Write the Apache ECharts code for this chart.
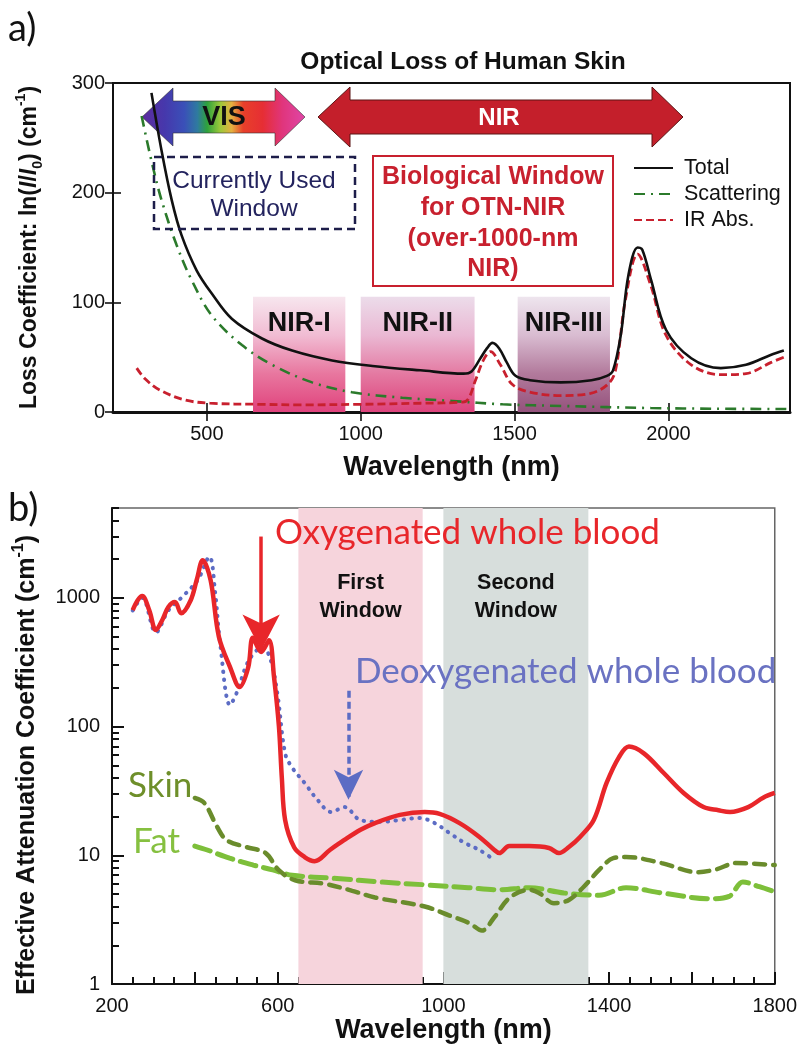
<!DOCTYPE html>
<html><head><meta charset="utf-8">
<script src="https://cdn.jsdelivr.net/npm/echarts@6/dist/echarts.min.js"></script>
<style>html,body{margin:0;padding:0;background:#fff}#c{width:800px;height:1052px}</style>
</head><body><div id="c"></div>
<script>
// ---------- Panel a data (wavelength nm, loss coefficient cm^-1) ----------
const totX = [320,353,386,418,467,516,581,679,777,907,1038,1194,1334,1360,1389,1410,1428,1450,1475,1503,1550,1650,1750,1800,1820,1845,1870,1900,1915,1944,1992,2074,2170,2252,2332,2375];
const totY = [291,238,193,161,129,108,85,67,56,47,42,38,35,37,49,58,63,58,45,33,29,27,29,33,38,70,125,150,148,120,75,49,40,43,52,56];
const scatX = [288,320,353,402,451,516,614,712,842,972,1135,1298,1461,1655,1943,2150,2395];
const scatY = [270,229,193,152,120,88,61,43,27,18,13,10,7,5.5,3.6,3,2.7];
const irX = [272,300,347,428,510,672,803,998,1194,1331,1350,1373,1400,1422,1454,1493,1552,1650,1747,1802,1828,1860,1900,1943,1992,2074,2170,2252,2332,2375];
const irY = [40,30,20,11,8,7,6.5,7,8,9,12,29,48,55,43,25,18,15,17,25,38,102,144,115,70,43,34,35,45,50];
const bandsA = [[650,950,'NIR-I'],[1000,1370,'NIR-II'],[1510,1810,'NIR-III']];
const bandTopA = 105;
const ticksAX = [500,1000,1500,2000];
const ticksAY = [0,100,200,300];
const legendA = ['Total','Scattering','IR Abs.'];

// ---------- Panel b data (wavelength nm, effective attenuation cm^-1) ----------
const oxyX = [250,262,273,290,306,322,336,352,367,390,405,419,438,458,485,508,529,540,560,579,591,603,610,618,640,665,689,726,760,800,835,895,955,991,1039,1087,1123,1135,1159,1207,1255,1279,1303,1330,1363,1394,1424,1448,1484,1532,1580,1628,1664,1692,1736,1772,1800];
const oxyY = [805,960,1035,800,563,680,850,930,760,960,1400,1960,1380,500,290,203,290,490,380,470,245,100,40,18.8,11.5,9.7,9.0,11,13.1,15.8,17.8,20.6,21.7,21,17.8,13.9,11,10.4,11.8,11.8,11.4,10.4,11.6,13.9,18.8,36.5,58,70,62,43.6,30.5,23.7,22.4,21.7,23.7,28,30.5];
const deoxyX = [250,273,306,336,367,407,435,449,461,485,501,531,564,583,599,618,635,665,696,729,762,799,847,895,943,979,1015,1051,1087,1123];
const deoxyY = [800,1000,540,800,1000,1380,2090,1100,446,147,183,330,415,330,183,62,48,36.5,27,21.7,23.7,18.8,18.2,18.8,19.5,17.8,14.9,12.5,11,9.2];
const skinX = [400,423,454,477,524,571,602,642,714,780,835,955,1015,1063,1093,1123,1159,1207,1231,1267,1303,1339,1376,1410,1441,1527,1613,1660,1706,1800];
const skinY = [27.9,25.5,16.6,13.1,11.6,10.4,7.7,6.4,6.0,5.3,4.7,4.0,3.4,2.97,2.6,3.3,4.65,5.4,5.1,4.25,4.5,5.7,7.7,9.5,9.7,8.7,7.4,7.8,8.7,8.4];
const fatX = [400,430,484,541,588,635,743,850,955,1060,1135,1207,1291,1376,1441,1527,1645,1690,1723,1763,1800];
const fatY = [11.8,11,9.5,8.4,7.7,7.0,6.6,6.2,5.9,5.6,5.4,5.6,5.1,4.9,5.6,5.1,4.6,4.8,6.2,5.7,5.2];
const windowsB = [[650,950,'First\nWindow'],[1000,1350,'Second\nWindow']];
const labelsBX = [200,600,1000,1400,1800];
const majorBX = [200,400,600,800,1000,1200,1400,1600,1800];
const redArrowB = [560, 3000, 390];   // x, yStart, yEnd
const blueArrowB = [771, 190, 27];

const minorBX = [];
for (let v = 250; v < 1800; v += 50) if (v % 200 !== 0) minorBX.push(v);
// log-axis tick positions for panel b (helper axes in log10 space)
const majorLog = [0, 1, 2, 3];
const minorLog = [];
for (let d = 0; d < 4; d++) for (let k = 2; k <= 9; k++) { const v = k * Math.pow(10, d); if (v <= 5000) minorLog.push(Math.log10(v)); }

const zip = (xs, ys) => xs.map((x, i) => [x, ys[i]]);
const SANS = '"Liberation Sans", Arial, Helvetica, sans-serif';
const HUM = 'Lato, "Open Sans", sans-serif';
const LG = (stops) => new echarts.graphic.LinearGradient(0, 0, 0, 1, stops.map((c, i) => ({offset: i / (stops.length - 1), color: c})));
const bandColorsA = [
  LG(['#f7e6ee', '#f1bcd3', '#e8779f', '#e0427c']),
  LG(['#ecdcea', '#eab8d3', '#e47aa2', '#dd437c']),
  LG(['#eee5ee', '#d9bcd1', '#b27a9c', '#94527c'])
];

const chart = echarts.init(document.getElementById('c'), null, {renderer: 'canvas'});
const tickStyle = {color: '#111', width: 1.6};
const tickB = {color: '#111', width: 2};
const nameStyle = (sz, pad) => ({fontSize: sz, fontWeight: 'bold', color: '#111', fontFamily: SANS, padding: pad || 0,
  rich: {
    i: {fontStyle: 'italic', fontWeight: 'bold', fontSize: sz, fontFamily: SANS, color: '#111'},
    sub: {fontSize: Math.round(sz * 0.62), fontWeight: 'bold', fontFamily: SANS, color: '#111', verticalAlign: 'bottom', lineHeight: sz + 8},
    sup: {fontSize: Math.round(sz * 0.62), fontWeight: 'bold', fontFamily: SANS, color: '#111', verticalAlign: 'top', lineHeight: sz + 8}
  }});
const helperX = (grid, vals, len, minv, maxv, inside) => ({gridIndex: grid, type: 'value', min: minv, max: maxv, position: 'bottom',
  axisLine: {show: false}, axisTick: {show: true, inside: inside, length: len, customValues: vals, lineStyle: grid ? tickB : tickStyle},
  axisLabel: {show: false}, splitLine: {show: false}});
const helperY = (grid, vals, len, minv, maxv, inside) => ({gridIndex: grid, type: 'value', min: minv, max: maxv, position: 'left',
  axisLine: {show: false}, axisTick: {show: true, inside: inside, length: len, customValues: vals, lineStyle: grid ? tickB : tickStyle},
  axisLabel: {show: false}, splitLine: {show: false}});

const option = {
  animation: false,
  backgroundColor: '#fff',
  textStyle: {fontFamily: SANS},
  grid: [
    {left: 113, top: 83, width: 677, height: 329, show: true, borderColor: '#111', borderWidth: 2},
    {left: 112, top: 508, width: 681, height: 476, show: true, borderColor: '#666', borderWidth: 1.5}
  ],
  legend: {
    data: legendA, orient: 'vertical', left: 633, top: 157, itemWidth: 39, itemHeight: 12, itemGap: 4, padding: 0,
    itemStyle: {opacity: 0},
    textStyle: {fontSize: 21.5, color: '#111', fontFamily: SANS, padding: [0, 0, 0, 6]}, selectedMode: false
  },
  xAxis: [
    {gridIndex: 0, type: 'value', min: 195, max: 2395,
      axisLine: {show: true, onZero: false, lineStyle: {color: '#111', width: 3}},
      axisTick: {show: true, length: 9, customValues: ticksAX, lineStyle: tickStyle},
      axisLabel: {customValues: ticksAX, formatter: v => String(v), fontSize: 20, color: '#111', margin: 12, fontFamily: SANS},
      splitLine: {show: false},
      name: 'Wavelength (nm)', nameLocation: 'middle', nameGap: 42, nameTextStyle: nameStyle(27)},
    helperX(0, ticksAX, 9, 195, 2395, true),
    {gridIndex: 1, type: 'value', min: 200, max: 1800,
      axisLine: {show: true, onZero: false, lineStyle: {color: '#111', width: 2}},
      axisTick: {show: true, inside: true, length: 12, customValues: majorBX, lineStyle: tickB},
      axisLabel: {customValues: labelsBX, formatter: v => String(v), fontSize: 20, color: '#111', margin: 12, fontFamily: SANS},
      splitLine: {show: false},
      name: 'Wavelength (nm)', nameLocation: 'middle', nameGap: 33, nameTextStyle: nameStyle(27)},
    helperX(1, minorBX, 7, 200, 1800, true)
  ],
  yAxis: [
    {gridIndex: 0, type: 'value', min: 0, max: 300, interval: 100,
      axisLine: {show: true, onZero: false, lineStyle: {color: '#111', width: 2}},
      axisTick: {show: true, length: 8, customValues: ticksAY, lineStyle: tickStyle},
      axisLabel: {customValues: ticksAY, formatter: v => String(v), fontSize: 20, color: '#111', margin: 8, fontFamily: SANS},
      splitLine: {show: false},
      name: 'Loss Coefficient: ln({i|I}/{i|I}{sub|0}) (cm{sup|-1})', nameLocation: 'middle', nameGap: 68, nameTextStyle: nameStyle(23)},
    helperY(0, ticksAY, 8, 0, 300, true),
    {gridIndex: 1, type: 'log', logBase: 10, min: 1, max: 5000,
      axisLine: {show: true, onZero: false, lineStyle: {color: '#111', width: 2}},
      axisTick: {show: false},
      axisLabel: {formatter: v => { const l = Math.log10(v); return Math.abs(l - Math.round(l)) < 1e-6 ? String(Math.round(v)) : ''; },
        fontSize: 20, color: '#111', margin: 12, fontFamily: SANS},
      splitLine: {show: false}, minorTick: {show: false},
      name: 'Effective Attenuation Coefficient (cm{sup|-1})', nameLocation: 'middle', nameGap: 68, nameTextStyle: nameStyle(25, [0, 38, 0, 0])},
    helperY(1, majorLog, 12, 0, Math.log10(5000), true),
    helperY(1, minorLog, 7, 0, Math.log10(5000), true)
  ],
  series: [
    {name: 'bandsA', type: 'line', xAxisIndex: 0, yAxisIndex: 0, data: [], z: 1, silent: true,
      markArea: {silent: true,
        label: {show: true, position: 'insideTop', distance: 13, fontSize: 27, fontWeight: 'bold', color: '#111', fontFamily: SANS},
        data: bandsA.map((b, i) => [{xAxis: b[0], yAxis: 0, name: b[2], itemStyle: {color: bandColorsA[i]}}, {xAxis: b[1], yAxis: bandTopA}])}},
    {name: 'Scattering', type: 'line', xAxisIndex: 0, yAxisIndex: 0, data: zip(scatX, scatY), symbol: 'none', smooth: 0.35,
      lineStyle: {color: '#2b7a2b', width: 2.6, type: [11, 6, 2, 6]}, itemStyle: {color: '#2b7a2b'}},
    {name: 'IR Abs.', type: 'line', xAxisIndex: 0, yAxisIndex: 0, data: zip(irX, irY), symbol: 'none', smooth: 0.35,
      lineStyle: {color: '#c8202e', width: 2.8, type: [8, 4]}, itemStyle: {color: '#c8202e'}},
    {name: 'Total', type: 'line', xAxisIndex: 0, yAxisIndex: 0, data: zip(totX, totY), symbol: 'none', smooth: 0.35,
      lineStyle: {color: '#111', width: 2.6}, itemStyle: {color: '#111'}},

    {name: 'windowsB', type: 'line', xAxisIndex: 2, yAxisIndex: 2, data: [], z: 1, silent: true,
      markArea: {silent: true,
        label: {show: true, position: 'insideTop', distance: 61, fontSize: 21.5, fontWeight: 'bold', color: '#111', lineHeight: 28, fontFamily: SANS},
        data: windowsB.map((w, i) => [{xAxis: w[0], name: w[2], itemStyle: {color: i === 0 ? '#f6d4dc' : '#d7dedc'}}, {xAxis: w[1]}])}},
    {name: 'Fat', type: 'line', xAxisIndex: 2, yAxisIndex: 2, data: zip(fatX, fatY), symbol: 'none', smooth: 0.35,
      lineStyle: {color: '#7dbf3a', width: 5, type: [16, 8], cap: 'round'}},
    {name: 'Skin', type: 'line', xAxisIndex: 2, yAxisIndex: 2, data: zip(skinX, skinY), symbol: 'none', smooth: 0.35,
      lineStyle: {color: '#6a8c2c', width: 4.5, type: [11, 8], cap: 'round'}},
    {name: 'Deoxygenated whole blood', type: 'line', xAxisIndex: 2, yAxisIndex: 2, data: zip(deoxyX, deoxyY), symbol: 'none', smooth: 0.35,
      lineStyle: {color: '#5c6cc4', width: 4, type: [0.5, 7.5], cap: 'round'},
      markLine: {silent: true, symbol: ['none', 'arrow'], symbolSize: [22, 30], label: {show: false},
        lineStyle: {color: '#5c6cc4', width: 3.5, type: [7, 4]},
        data: [[{coord: [blueArrowB[0], blueArrowB[1]]}, {coord: [blueArrowB[0], blueArrowB[2]]}]]}},
    {name: 'Oxygenated whole blood', type: 'line', xAxisIndex: 2, yAxisIndex: 2, data: zip(oxyX, oxyY), symbol: 'none', smooth: 0.35,
      lineStyle: {color: '#e8262a', width: 4.5},
      markLine: {silent: true, symbol: ['none', 'arrow'], symbolSize: [28, 36], label: {show: false},
        lineStyle: {color: '#e8262a', width: 3.5, type: 'solid'},
        data: [[{coord: [redArrowB[0], redArrowB[1]]}, {coord: [redArrowB[0], redArrowB[2]]}]]}}
  ],
  graphic: [
    {type: 'text', x: 8, y: 10, z: 10, style: {text: 'a)', fontSize: 38, fontFamily: HUM, fill: '#111'}},
    {type: 'text', x: 8, y: 490, z: 10, style: {text: 'b)', fontSize: 38, fontFamily: HUM, fill: '#111'}},
    {type: 'text', x: 463, y: 62, z: 10, style: {text: 'Optical Loss of Human Skin', fontSize: 24.5, fontWeight: 'bold', fontFamily: SANS, fill: '#111', align: 'center', verticalAlign: 'middle'}},
    {type: 'polygon', z: 0, shape: {points: [[142,117],[173,88],[173,101],[275,101],[275,88],[305,117],[275,146],[275,133],[173,133],[173,146]]},
      style: {fill: new echarts.graphic.LinearGradient(0, 0, 1, 0, [
        {offset: 0, color: '#5e2c9e'}, {offset: 0.14, color: '#4638ac'}, {offset: 0.26, color: '#3a50b8'},
        {offset: 0.34, color: '#2f7aa0'}, {offset: 0.4, color: '#2ea23c'}, {offset: 0.48, color: '#9cc83a'},
        {offset: 0.55, color: '#e6b040'}, {offset: 0.62, color: '#e8402a'}, {offset: 0.74, color: '#e62e34'},
        {offset: 0.86, color: '#e0357c'}, {offset: 1, color: '#e046a8'}]), stroke: '#333', lineWidth: 0.6}},
    {type: 'text', x: 224, y: 118, z: 10, style: {text: 'VIS', fontSize: 27, fontWeight: 'bold', fontFamily: SANS, fill: '#111', align: 'center', verticalAlign: 'middle'}},
    {type: 'polygon', z: 0, shape: {points: [[318,117],[350,87],[350,100],[652,100],[652,87],[683,117],[652,147],[652,134],[350,134],[350,147]]},
      style: {fill: '#c41f2b', stroke: '#5a1414', lineWidth: 1}},
    {type: 'text', x: 499, y: 118, z: 10, style: {text: 'NIR', fontSize: 24, fontWeight: 'bold', fontFamily: SANS, fill: '#fff', align: 'center', verticalAlign: 'middle'}},
    {type: 'rect', z: 10, shape: {x: 154, y: 157, width: 201, height: 72}, style: {fill: 'transparent', stroke: '#1d1d4a', lineWidth: 2.5, lineDash: [8, 5]}},
    {type: 'text', x: 254, y: 181, z: 10, style: {text: 'Currently Used', fontSize: 24.5, fontFamily: SANS, fill: '#23235e', align: 'center', verticalAlign: 'middle'}},
    {type: 'text', x: 254, y: 209, z: 10, style: {text: 'Window', fontSize: 24.5, fontFamily: SANS, fill: '#23235e', align: 'center', verticalAlign: 'middle'}},
    {type: 'rect', z: 10, shape: {x: 373, y: 156, width: 240, height: 130}, style: {fill: '#fff', stroke: '#c8202e', lineWidth: 2}},
    {type: 'text', x: 493, y: 177, z: 11, style: {text: 'Biological Window', fontSize: 25, fontWeight: 'bold', fontFamily: SANS, fill: '#c8202e', align: 'center', verticalAlign: 'middle'}},
    {type: 'text', x: 493, y: 208, z: 11, style: {text: 'for OTN-NIR', fontSize: 25, fontWeight: 'bold', fontFamily: SANS, fill: '#c8202e', align: 'center', verticalAlign: 'middle'}},
    {type: 'text', x: 493, y: 239, z: 11, style: {text: '(over-1000-nm', fontSize: 25, fontWeight: 'bold', fontFamily: SANS, fill: '#c8202e', align: 'center', verticalAlign: 'middle'}},
    {type: 'text', x: 493, y: 269, z: 11, style: {text: 'NIR)', fontSize: 25, fontWeight: 'bold', fontFamily: SANS, fill: '#c8202e', align: 'center', verticalAlign: 'middle'}},
    {type: 'text', x: 275, y: 533, z: 20, style: {text: 'Oxygenated whole blood', fontSize: 35, fontFamily: HUM, fill: '#e8262a', align: 'left', verticalAlign: 'middle'}},
    {type: 'text', x: 355, y: 672, z: 20, style: {text: 'Deoxygenated whole blood', fontSize: 35, fontFamily: HUM, fill: '#6a72c2', align: 'left', verticalAlign: 'middle'}},
    {type: 'text', x: 128, y: 786, z: 20, style: {text: 'Skin', fontSize: 35, fontFamily: HUM, fill: '#6e8f2a', align: 'left', verticalAlign: 'middle'}},
    {type: 'text', x: 133, y: 842, z: 20, style: {text: 'Fat', fontSize: 35, fontFamily: HUM, fill: '#86c040', align: 'left', verticalAlign: 'middle'}}
  ]
};
chart.setOption(option);
</script></body></html>
